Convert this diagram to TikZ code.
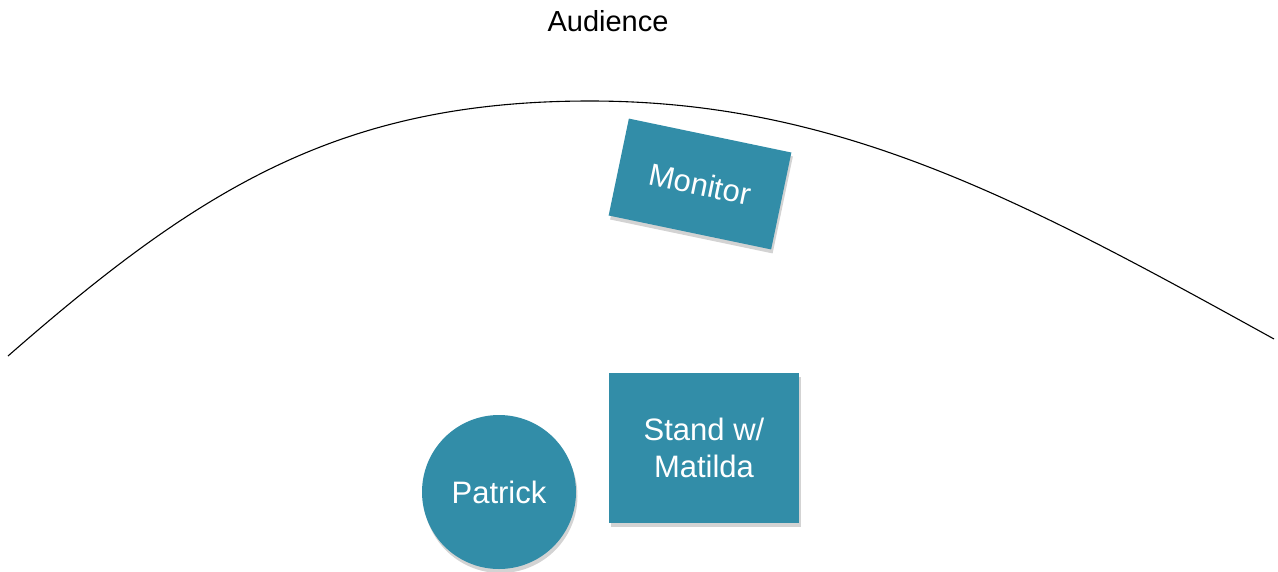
\documentclass[tikz,border=0pt]{standalone}
\usepackage{fontspec}
\setmainfont{Liberation Sans}
\usetikzlibrary{shadows,shapes.geometric}
\definecolor{teal1}{RGB}{50,141,168}
\tikzset{
  block/.style={fill=teal1, draw=none, inner sep=0pt, text=white, align=center,
    font=\fontsize{31}{37}\selectfont,
    drop shadow={opacity=0.35, shadow xshift=1.5pt, shadow yshift=-4pt}},
  stage/.style={line width=1.1pt, black}
}
\begin{document}
\begin{tikzpicture}[x=1pt,y=-1pt]
\useasboundingbox (0,0) rectangle (1278,571);
\node (aud) at (608,21) {\fontsize{29}{34}\selectfont Audience};
\coordinate (sl) at (8,356);
\coordinate (top) at (590,101);
\coordinate (sr) at (1274,339);
\draw[stage] (sl) .. controls (200,188) and (340,101) .. (top)
                  .. controls (840,101) and (1024,201) .. (sr);
\node[block, rectangle, minimum width=166pt, minimum height=99pt, rotate=-11.8] (mon) at (700,184) {Monitor};
\node[block, rectangle, minimum width=190pt, minimum height=150pt] (stand) at (704,448) {Stand w/\\Matilda};
\node[block, circle, minimum size=154pt] (pat) at (499,492) {Patrick};
\end{tikzpicture}
\end{document}
